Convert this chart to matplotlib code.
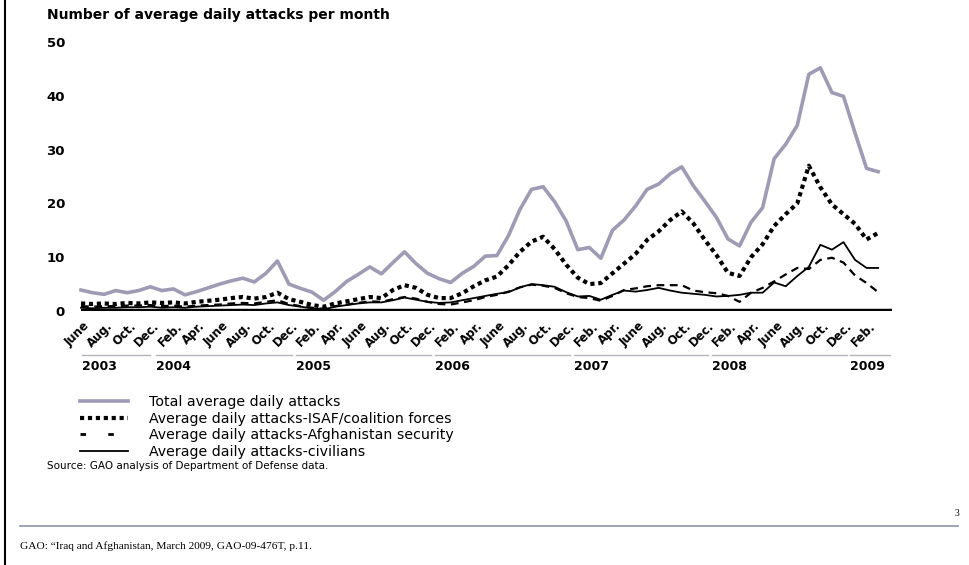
import matplotlib
matplotlib.use("Agg")
import matplotlib.pyplot as plt
import matplotlib.transforms as mtransforms
from matplotlib.lines import Line2D

plt.rcParams["font.family"] = ["DejaVu Sans"]

# monthly values, May 2003 .. Feb 2009
total = [3.9, 3.4, 3.1, 3.8, 3.4, 3.8, 4.5, 3.8, 4.1, 3.0,
         3.6, 4.3, 5.0, 5.6, 6.1, 5.4, 7.0, 9.3, 5.0, 4.2,
         3.5, 2.0, 3.6, 5.5, 6.8, 8.2, 6.9, 9.0, 11.0, 8.8,
         7.0, 6.0, 5.3, 7.0, 8.3, 10.2, 10.3, 14.0, 18.9, 22.6,
         23.1, 20.3, 16.7, 11.4, 11.8, 9.8, 15.0, 16.9, 19.5, 22.6,
         23.6, 25.5, 26.8, 23.3, 20.4, 17.4, 13.4, 12.1, 16.5, 19.2,
         28.3, 31.0, 34.5, 44.0, 45.2, 40.6, 39.9, 33.1, 26.5, 25.9]
isaf = [1.4, 1.3, 1.4, 1.3, 1.5, 1.4, 1.6, 1.5, 1.6, 1.4,
        1.7, 1.9, 2.1, 2.4, 2.6, 2.3, 2.6, 3.4, 2.2, 1.7,
        1.1, 0.8, 1.4, 1.8, 2.2, 2.6, 2.4, 3.9, 4.8, 4.3,
        3.0, 2.4, 2.4, 3.3, 4.6, 5.7, 6.4, 8.5, 11.0, 12.9,
        13.8, 11.5, 8.6, 6.2, 5.0, 5.2, 7.0, 8.8, 10.6, 13.2,
        14.8, 16.9, 18.5, 16.3, 13.2, 10.4, 7.1, 6.5, 10.0, 12.4,
        15.8, 18.0, 20.0, 27.0, 23.0, 19.8, 18.0, 16.2, 13.3, 14.5]
security = [0.9, 0.8, 0.9, 0.9, 1.0, 1.0, 1.1, 0.9, 1.0, 0.8,
            1.0, 1.1, 1.2, 1.4, 1.5, 1.4, 1.7, 2.0, 1.3, 0.9,
            0.6, 0.4, 0.9, 1.2, 1.5, 1.8, 1.7, 2.2, 2.6, 2.3,
            1.7, 1.3, 1.2, 1.6, 2.0, 2.6, 3.0, 3.6, 4.4, 4.9,
            4.7, 4.3, 3.3, 2.6, 2.4, 1.9, 2.8, 3.9, 4.2, 4.6,
            4.8, 4.8, 4.8, 3.8, 3.5, 3.3, 2.8, 1.7, 3.4, 4.3,
            5.5, 6.8, 8.0, 7.8, 9.5, 9.9, 9.0, 6.6, 5.2, 3.5]
civilians = [0.6, 0.5, 0.6, 0.6, 0.7, 0.7, 0.8, 0.6, 0.7, 0.6,
             0.8, 0.9, 1.0, 1.1, 1.2, 1.1, 1.4, 1.6, 1.1, 0.8,
             0.5, 0.3, 0.8, 1.1, 1.4, 1.6, 1.6, 2.0, 2.5, 2.1,
             1.7, 1.5, 1.6, 2.0, 2.4, 2.8, 3.2, 3.5, 4.4, 5.0,
             4.8, 4.5, 3.5, 2.7, 2.8, 2.1, 3.0, 3.8, 3.6, 3.9,
             4.3, 3.8, 3.4, 3.2, 3.0, 2.7, 2.8, 3.0, 3.4, 3.4,
             5.3, 4.6, 6.5, 8.2, 12.3, 11.4, 12.8, 9.5, 8.0, 8.0]
months = list(range(len(total)))

tick_idx = list(range(1, 70, 2))   # June 2003 .. Feb 2009
month_labels = (["June", "Aug.", "Oct.", "Dec."]
                + ["Feb.", "Apr.", "June", "Aug.", "Oct.", "Dec."] * 5
                + ["Feb."])
years = ["2003", "2004", "2005", "2006", "2007", "2008", "2009"]
year_start = [0.1, 6.5, 18.6, 30.6, 42.7, 54.6, 66.6]
year_end = [6.0, 18.3, 30.3, 42.3, 54.3, 66.3, 70.0]

legend_labels = ["Total average daily attacks",
                 "Average daily attacks-ISAF/coalition forces",
                 "Average daily attacks-Afghanistan security",
                 "Average daily attacks-civilians"]

W, H = 970, 565
fig = plt.figure(figsize=(W / 100, H / 100), dpi=100)
ax = fig.add_axes([81 / W, (H - 311) / H, 811 / W, 269 / H])

gray = "#9e9bb4"
ax.plot(months, total, color=gray, lw=2.6, clip_on=False, zorder=3)
ax.plot(months, isaf, color="black", lw=3.0, dashes=(1.0, 0.9),
        clip_on=False, zorder=4)
ax.plot(months, security, color="black", lw=1.6, dashes=(3.5, 2.5),
        clip_on=False, zorder=4)
ax.plot(months, civilians, color="black", lw=1.3, clip_on=False, zorder=4)
ax.axhline(0, color="black", lw=3.2, zorder=5)

ax.set_xlim(0, 70.2)
ax.set_ylim(0, 50)
for s in ax.spines.values():
    s.set_visible(False)
ax.set_yticks([0, 10, 20, 30, 40, 50])
ax.set_yticklabels(["0", "10", "20", "30", "40", "50"],
                   fontsize=9.5, fontweight="bold")
ax.set_xticks(tick_idx)
ax.set_xticklabels(month_labels, rotation=45, ha="right", va="top",
                   fontsize=8.5, fontweight="bold")
ax.tick_params(axis="y", length=0, pad=11.5)
ax.tick_params(axis="x", length=0, pad=6)

# year groups under the month labels
trans = mtransforms.blended_transform_factory(ax.transData, ax.transAxes)
for yr, s, e in zip(years, year_start, year_end):
    ax.plot([s, e], [-0.1636, -0.1636], transform=trans, clip_on=False,
            color="#b4b4bc", lw=1.0)
    ax.text(s, -0.206, yr, transform=trans, ha="left", va="center",
            fontsize=9, fontweight="bold")

fig.text(47 / W, 1 - 15 / H, "Number of average daily attacks per month",
         fontsize=10, fontweight="bold", va="center")

handles = [Line2D([], [], color=gray, lw=2.6),
           Line2D([], [], color="black", lw=3.0, dashes=(1.0, 0.9)),
           Line2D([], [], color="black", lw=2.0, dashes=(2.0, 8.0)),
           Line2D([], [], color="black", lw=1.3)]
fig.legend(handles, legend_labels, loc="upper left",
           bbox_to_anchor=(80 / W, 1 - 395 / H), frameon=False,
           fontsize=10.2, handlelength=3.4, handletextpad=1.5,
           labelspacing=0.18, borderpad=0, borderaxespad=0)

fig.text(47 / W, 1 - 466 / H,
         "Source: GAO analysis of Department of Defense data.",
         fontsize=7.5, va="center")

# footer
fig.add_artist(Line2D([20 / W, 958 / W], [39 / H, 39 / H],
                      transform=fig.transFigure, color="#8a93a8", lw=1.2))
fig.text(20 / W, 19 / H,
         "GAO: \u201cIraq and Afghanistan, March 2009, GAO-09-476T, p.11.",
         family=["Liberation Serif", "DejaVu Serif"], fontsize=8.2,
         va="center")
fig.text(957 / W, 52 / H, "3", family=["Liberation Serif", "DejaVu Serif"],
         fontsize=7, va="center", ha="center")
fig.add_artist(Line2D([5 / W, 5 / W], [0, 1], transform=fig.transFigure,
                      color="black", lw=1.5))

fig.savefig("out.png", dpi=100)
